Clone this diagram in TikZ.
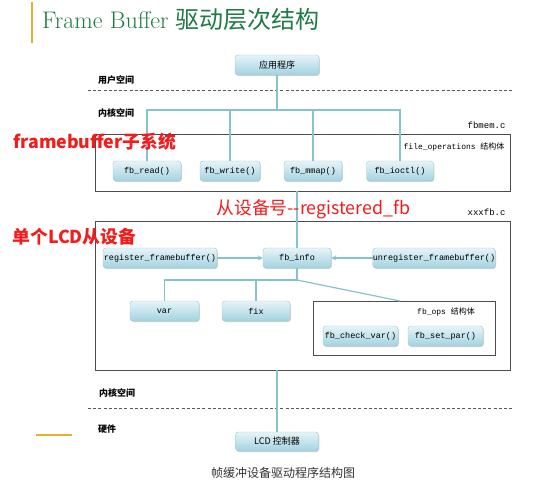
\documentclass[tikz,border=0pt]{standalone}
\usepackage{fontspec}
\usepackage{tikz}
\setmonofont{Liberation Mono}
\newfontfamily\cjk{Noto Sans CJK SC}
\usetikzlibrary{positioning, arrows, shadows, calc}
\definecolor{titlegreen}{HTML}{1F7A45}
\definecolor{bargold}{HTML}{E3B12F}
\definecolor{linkteal}{HTML}{86C3CD}
\definecolor{boxtop}{HTML}{E6F4F8}
\definecolor{boxbottom}{HTML}{A2D3E0}
\definecolor{boxedge}{HTML}{9CC6D1}
\definecolor{notered}{HTML}{F21C1C}
\tikzset{
  layers/.style={
	x=1pt, y=-1pt, % one unit is one pixel of the picture, y grows downwards
	>=stealth, % small filled arrow heads
  },
  func/.style={rounded corners=3pt, draw=boxedge, top color=boxtop, bottom color=boxbottom,
	minimum height=20pt, inner sep=0pt, font=\ttfamily\fontsize{8.5}{9}\selectfont,
	drop shadow={shadow xshift=0.8pt, shadow yshift=-1pt, opacity=0.3, fill=black!60}}, % the function boxes
  group/.style={draw=black!70, line width=0.9pt, inner sep=0pt}, % frames round the source files
  link/.style={draw=linkteal, line width=1.2pt}, % the connectors
  space/.style={font=\cjk\bfseries\fontsize{9}{10}\selectfont}, % names of the layers
  srcfile/.style={font=\ttfamily\fontsize{9}{10}\selectfont, anchor=east},
  note/.style={text=notered, anchor=west, font=\cjk\bfseries\fontsize{17.8}{19}\selectfont}, % red remarks
  level/.style={draw=black!65, line width=1pt, dash pattern=on 3pt off 2.2pt}, % border between layers
}
\begin{document}
\begin{tikzpicture}[layers]
	  \useasboundingbox (0,0) rectangle (557,497);
	  % title
	  \draw[bargold, line width=2pt] (32,2) -- (32,43);
	  \node[anchor=base west, text=titlegreen, font=\fontsize{24}{26}\selectfont, inner sep=0pt] (title) at (42,29)
		  {Frame Buffer {\cjk\fontsize{24}{26}\selectfont 驱动层次结构}};
	  % user space
	  \node[func, minimum width=84pt, font=\cjk\fontsize{9}{10}\selectfont] (app) at (277,65) {应用程序};
	  \node[space] (user) at (116,80) {用户空间};
	  \draw[level] (88,91) -- (512,91);
	  \node[space] (kernel) at (116,113) {内核空间};
	  % fbmem.c
	  \node[group, minimum width=415pt, minimum height=57pt] (fbmem) at (302.5,162.5) {};
	  \node[srcfile] (fbmemc) at (509,125) {fbmem.c};
	  \node[srcfile, font=\ttfamily\fontsize{8}{9}\selectfont] (fileops) at (508,147) {file\_operations {\cjk 结构体}};
	  \node[func, minimum width=68pt] (fbread) at (147,171) {fb\_read()};
	  \node[func, minimum width=60pt] (fbwrite) at (230,171) {fb\_write()};
	  \node[func, minimum width=58pt] (fbmmap) at (313,171) {fb\_mmap()};
	  \node[func, minimum width=67pt] (fbioctl) at (400,171) {fb\_ioctl()};
	  \coordinate (opsbus) at (277,110);
	  \draw[link] (app) -- (opsbus);
	  \draw[link] (fbread.north) |- (fbioctl.north |- opsbus) -- (fbioctl.north);
	  \draw[link] (fbwrite.north) -- (fbwrite.north |- opsbus);
	  \draw[link] (fbmmap.north) -- (fbmmap.north |- opsbus);
	  % xxxfb.c
	  \node[srcfile] (xxxfbc) at (509,212) {xxxfb.c};
	  \node[group, minimum width=415pt, minimum height=149pt] (xxxfb) at (302.5,295.5) {};
	  \node[func, minimum width=68pt] (fbinfo) at (297,258) {fb\_info};
	  \node[func, minimum width=114pt] (register) at (160,258) {register\_framebuffer()};
	  \node[func, minimum width=122pt] (unregister) at (434,258) {unregister\_framebuffer()};
	  \draw[link] (fbinfo.north) -- (fbinfo.north |- fbmem.south);
	  \draw[link, ->] (register) -- (fbinfo);
	  \draw[link, ->] (unregister) -- (fbinfo);
	  \node[func, minimum width=69pt] (var) at (164.5,311) {var};
	  \node[func, minimum width=68pt] (fix) at (256,311) {fix};
	  \node[group, minimum width=182pt, minimum height=54pt] (fbops) at (404,328) {};
	  \node[font=\ttfamily\fontsize{8}{9}\selectfont] (opslabel) at (446,312) {fb\_ops {\cjk 结构体}};
	  \node[func, minimum width=75pt] (checkvar) at (360.5,336) {fb\_check\_var()};
	  \node[func, minimum width=75pt] (setpar) at (445.5,336) {fb\_set\_par()};
	  \coordinate (infobus) at (297,280);
	  \coordinate (opsin) at (400,301);
	  \draw[link] (fbinfo.south) -- (infobus) -| (var.north);
	  \draw[link] (fix.north) -- (fix.north |- infobus);
	  \draw[link] (infobus) -- (opsin);
	  % hardware
	  \node[space] (kernel2) at (117,393) {内核空间};
	  \draw[level] (88,408) -- (512,408);
	  \node[space] (hw) at (107,429) {硬件};
	  \draw[bargold, line width=1.5pt] (36,435) -- (72,435);
	  \node[func, minimum width=83pt, minimum height=19pt, font=\cjk\fontsize{9}{10}\selectfont] (lcd) at (277,441.5) {LCD 控制器};
	  \draw[link] (lcd.north |- xxxfb.south) -- (lcd.north);
	  \node[font=\cjk\fontsize{12}{13}\selectfont, text=black!80] (caption) at (283,473) {帧缓冲设备驱动程序结构图};
	  % red remarks, on top of the lines
	  \node[note] (subsys) at (10,142) {framebuffer子系统};
	  \node[note, font=\cjk\fontsize{17.8}{19}\selectfont] (minor) at (213,209) {从设备号--registered\_fb};
	  \node[note] (lcddev) at (9,237) {单个LCD从设备};
\end{tikzpicture}
\end{document}
